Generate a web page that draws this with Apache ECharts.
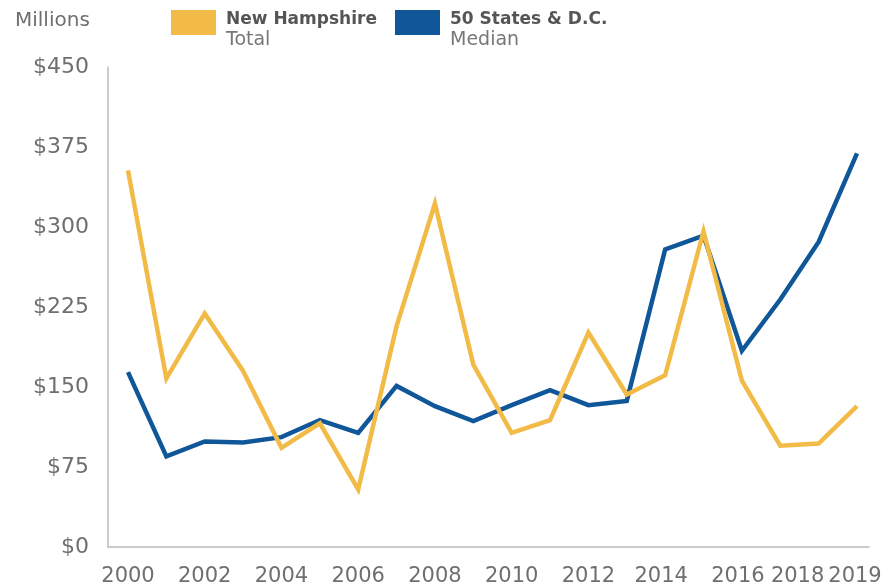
<!DOCTYPE html>
<html>
<head>
<meta charset="utf-8">
<script src="https://cdn.jsdelivr.net/npm/echarts@6/dist/echarts.min.js"></script>
<style>
html,body{margin:0;padding:0;background:#fff;}
#chart{width:891px;height:588px;}
</style>
</head>
<body>
<div id="chart"></div>
<script>
const years = [2000, 2001, 2002, 2003, 2004, 2005, 2006, 2007, 2008, 2009,
               2010, 2011, 2012, 2013, 2014, 2015, 2016, 2017, 2018, 2019];
const nhTotal = [353, 158, 219, 165, 93, 116, 54, 207, 322, 171,
                 107, 119, 201, 143, 161, 296, 156, 95, 97, 132];
const statesMedian = [164, 85, 99, 98, 103, 119, 107, 151, 132, 118,
                      133, 147, 133, 137, 279, 292, 184, 232, 286, 369];
const xTickLabels = [2000, 2002, 2004, 2006, 2008, 2010, 2012, 2014, 2016, 2018, 2019];
const seriesNames = ['New Hampshire', '50 States & D.C.'];
const seriesSubtitles = ['Total', 'Median'];

const FONT = 'DejaVu Sans';
const GREY = '#6f6f6f';
const YELLOW = '#F2BB47';
const BLUE = '#0F5799';

// styling: label nudges in pixels to the left (avoid crowding at right end)
const labelNudgePx = {2014: 4, 2016: 4, 2018: 21, 2019: 2};
const X_MIN = 1999.479, X_MAX = 2019.313;
const GRID_LEFT = 108, GRID_RIGHT = 22;
const pxPerYear = (891 - GRID_LEFT - GRID_RIGHT) / (X_MAX - X_MIN);
const labelPos = xTickLabels.map(y => y - (labelNudgePx[y] || 0) / pxPerYear);

const chart = echarts.init(document.getElementById('chart'), null, {renderer: 'canvas'});

function legendItem(i, x, color) {
  return [
    {type: 'rect', left: x, top: 10, shape: {width: 45, height: 25}, style: {fill: color}},
    {type: 'text', x: x + 55, y: 20, style: {text: seriesNames[i], fontFamily: FONT, fontSize: 17, fontWeight: 'bold', fill: '#555555', verticalAlign: 'middle', align: 'left'}},
    {type: 'text', x: x + 55, y: 40, style: {text: seriesSubtitles[i], fontFamily: FONT, fontSize: 19, fill: '#777777', verticalAlign: 'middle', align: 'left'}}
  ];
}

const option = {
  animation: false,
  backgroundColor: '#fff',
  textStyle: {fontFamily: FONT},
  title: {
    text: 'Millions',
    left: 10,
    top: 6,
    textStyle: {fontFamily: FONT, fontSize: 20, fontWeight: 'normal', color: GREY}
  },
  graphic: [].concat(legendItem(0, 171, YELLOW), legendItem(1, 395, BLUE)),
  grid: {left: GRID_LEFT, right: GRID_RIGHT, top: 67, bottom: 41, containLabel: false},
  xAxis: {
    type: 'value',
    min: X_MIN,
    max: X_MAX,
    splitLine: {show: false},
    axisTick: {show: false},
    axisLine: {show: true, lineStyle: {color: '#bbbbbb', width: 1.5}},
    axisLabel: {
      customValues: labelPos,
      showMinLabel: true,
      showMaxLabel: true,
      hideOverlap: false,
      margin: 19,
      fontFamily: FONT,
      fontSize: 21,
      color: GREY,
      formatter: function (v) {
        let best = xTickLabels[0], d = Infinity;
        labelPos.forEach((p, i) => { const dd = Math.abs(p - v); if (dd < d) { d = dd; best = xTickLabels[i]; } });
        return String(best);
      }
    }
  },
  yAxis: {
    type: 'value',
    min: 0,
    max: 450,
    interval: 75,
    splitLine: {show: false},
    axisTick: {show: false},
    axisLine: {show: true, lineStyle: {color: '#bbbbbb', width: 1.5}},
    axisLabel: {
      margin: 19,
      fontFamily: FONT,
      fontSize: 22,
      color: GREY,
      formatter: v => '$' + v
    }
  },
  series: [
    {
      name: seriesNames[1],
      type: 'line',
      z: 2,
      symbol: 'none',
      color: BLUE,
      lineStyle: {width: 4.5, color: BLUE, join: 'miter'},
      data: years.map((y, i) => [y, statesMedian[i]])
    },
    {
      name: seriesNames[0],
      type: 'line',
      z: 3,
      symbol: 'none',
      color: YELLOW,
      lineStyle: {width: 4.5, color: YELLOW, join: 'miter'},
      data: years.map((y, i) => [y, nhTotal[i]])
    }
  ]
};

chart.setOption(option);
</script>
</body>
</html>
